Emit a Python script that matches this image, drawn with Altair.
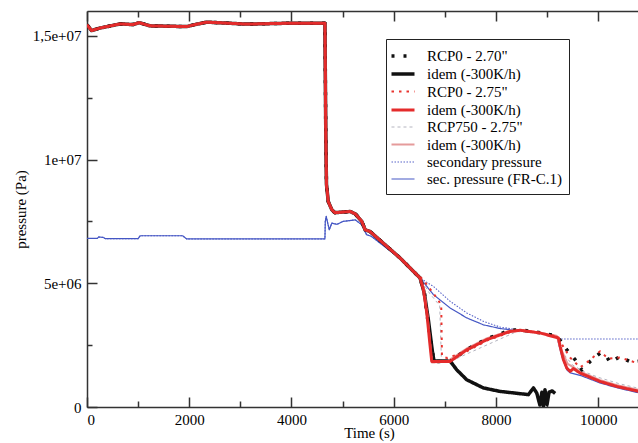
import altair as alt
import pandas as pd

# ---------------- data ----------------
# common primary-pressure trace (all six primary runs overlap until ~6500 s)
CP_T = [0, 90, 250, 650, 900, 1020, 1230, 1950, 2110, 2340, 3120, 4040, 4655, 4672,
        4685, 4720, 4790, 4850, 5150, 5250, 5376, 5441, 5538, 6125, 6517]
CP_P = [1.544e7, 1.521e7, 1.531e7, 1.548e7, 1.545e7, 1.553e7, 1.540e7, 1.537e7, 1.545e7,
        1.555e7, 1.547e7, 1.551e7, 1.551e7, 1.10e7, 9.0e6, 8.3e6, 7.97e6, 7.85e6, 7.9e6,
        7.8e6, 7.5e6, 7.16e6, 7.09e6, 6.02e6, 5.21e6]

# common secondary-pressure trace
SEC_T = [0, 200, 230, 320, 360, 1000, 1040, 1870, 1950, 4655, 4662, 4680, 4740, 4790,
         4890, 5010, 5250, 5376, 5470, 5560, 6125, 6517]
SEC_P = [6.81e6, 6.81e6, 6.87e6, 6.85e6, 6.80e6, 6.80e6, 6.92e6, 6.92e6, 6.79e6, 6.79e6,
         7.5e6, 7.7e6, 7.16e6, 7.43e6, 7.38e6, 7.5e6, 7.56e6, 7.36e6, 6.96e6, 6.9e6,
         6.0e6, 5.21e6]

# branches after ~6500 s
A_T = [6600, 6700, 6790, 7104, 7430, 7820, 8272, 8474, 8865, 9192, 9290, 9388, 9550,
       9681, 9844, 10039, 10170, 10235, 10430, 10500, 10660, 10800]
A_P = [4.6e6, 3.0e6, 1.84e6, 1.84e6, 2.32e6, 2.75e6, 3.1e6, 3.12e6, 3.0e6, 2.87e6,
       2.6e6, 2.31e6, 1.91e6, 1.5e6, 1.84e6, 2.18e6, 2.02e6, 1.8e6, 2.04e6, 1.95e6,
       1.8e6, 1.85e6]

B_T = [6600, 6680, 6760, 6790, 7104, 7235, 7430, 7756, 8082, 8636, 8734, 8800, 8860,
       8900, 8930, 8960, 9000, 9040, 9100, 9160]
B_P = [4.6e6, 3.5e6, 2.2e6, 1.86e6, 1.86e6, 1.5e6, 1.1e6, 7.7e5, 6.3e5, 5.0e5, 7.7e5,
       5.6e5, 8e4, 6e5, 2e4, 7e5, 1e5, 6e5, 6.5e5, 5.5e5]

C_T = [6576, 6870, 6930, 6945, 7045, 7430, 7820, 8272, 8474, 8865, 9192, 9300, 9450,
       9648, 9780, 10039, 10200, 10430, 10800]
C_P = [5.14e6, 4.33e6, 4.1e6, 2.04e6, 1.98e6, 2.25e6, 2.68e6, 3.02e6, 3.1e6, 3.0e6,
       2.86e6, 2.5e6, 2.0e6, 1.6e6, 1.8e6, 2.25e6, 1.95e6, 2.0e6, 1.75e6]

D_T = [6582, 6648, 6707, 6745, 7104, 7430, 7820, 8272, 8474, 8865, 9224, 9257, 9321,
       9388, 9452, 9517, 9648, 10039, 10366, 10800]
D_P = [4.74e6, 3.8e6, 2.58e6, 1.84e6, 1.84e6, 2.31e6, 2.72e6, 3.05e6, 3.1e6, 2.99e6,
       2.79e6, 2.45e6, 1.91e6, 1.57e6, 1.44e6, 1.55e6, 1.37e6, 1.03e6, 8.3e5, 6.3e5]

E_T = [6700, 6900, 6935, 7104, 8410, 8865, 9192, 9300, 9500, 9700, 10000, 10400, 10800]
E_P = [4.6e6, 4.1e6, 1.84e6, 1.84e6, 3.05e6, 2.98e6, 2.84e6, 2.2e6, 1.7e6, 1.45e6,
       1.2e6, 9.5e5, 7.5e5]

F_T = [6590, 6660, 6720, 6750, 7050, 7430, 7820, 8272, 8474, 8865, 9192, 9260, 9400,
       9648, 10039, 10366, 10800]
F_P = [4.8e6, 3.7e6, 2.4e6, 1.8e6, 1.84e6, 2.36e6, 2.77e6, 3.08e6, 3.11e6, 3.0e6,
       2.87e6, 2.4e6, 1.75e6, 1.43e6, 1.08e6, 8.8e5, 6.8e5]

G_T = [6777, 7104, 7430, 7756, 8082, 8474, 8865, 9193, 9250, 10800]
G_P = [4.87e6, 4.27e6, 3.8e6, 3.46e6, 3.23e6, 3.1e6, 3.0e6, 2.79e6, 2.75e6, 2.75e6]

H_T = [6777, 7104, 7430, 7756, 8082, 8474, 8865, 9192, 9290, 9388, 9452, 9648, 10039,
       10400, 10800]
H_P = [4.54e6, 4.0e6, 3.6e6, 3.32e6, 3.17e6, 3.08e6, 2.99e6, 2.85e6, 2.04e6, 1.5e6,
       1.38e6, 1.28e6, 9.7e5, 7.6e5, 5.7e5]

KEYS = ["a", "b", "c", "d", "e", "f", "g", "h"]
LABELS = ['RCP0 - 2.70"', "idem (-300K/h)", 'RCP0 - 2.75"', "idem (-300K/h)",
          'RCP750 - 2.75"', "idem (-300K/h)", "secondary pressure", "sec. pressure (FR-C.1)"]
COLORS = ["#111111", "#111111", "#e8342f", "#e42b2b", "#b4b4bf", "#e59b9b", "#5763c8", "#4456c4"]
DASHES = [[3, 9], [1, 0], [2.5, 5], [1, 0], [3, 3], [1, 0], [1.5, 1.5], [1, 0]]
WIDTHS = [3.5, 3.5, 2, 3, 1, 2.2, 1.1, 1.2]
DRAW_ORDER = ["g", "h", "e", "b", "f", "a", "c", "d"]

X_MAJOR = [0, 2000, 4000, 6000, 8000, 10000]
X_MINOR = [1000, 3000, 5000, 7000, 9000]
Y_MAJOR = [0, 5e6, 1e7, 1.5e7]
Y_MINOR = [2.5e6, 7.5e6, 1.25e7]

# ---------------- build table ----------------
branches = {
    "a": (CP_T + A_T, CP_P + A_P),
    "b": (CP_T + B_T, CP_P + B_P),
    "c": (CP_T[:-1] + C_T, CP_P[:-1] + C_P),
    "d": (CP_T + D_T, CP_P + D_P),
    "e": (CP_T + E_T, CP_P + E_P),
    "f": (CP_T + F_T, CP_P + F_P),
    "g": (SEC_T + G_T, SEC_P + G_P),
    "h": (SEC_T + H_T, SEC_P + H_P),
}
rows = []
for k, (ts, ps) in branches.items():
    for i, (t, p) in enumerate(zip(ts, ps)):
        rows.append({"series": k, "t": t, "p": p, "i": i})
df = pd.DataFrame(rows)

W, H = 551, 396
FONT = "Liberation Serif, Times New Roman, DejaVu Serif, serif"
AX = "#333333"

xscale = alt.Scale(domain=[0, 10780], nice=False, zero=False)
yscale = alt.Scale(domain=[0, 1.6e7], nice=False, zero=True)

label_expr = "[" + ",".join("'" + l.replace('"', '\\"') + "'" for l in LABELS) + "][indexof(" + \
    "[" + ",".join("'" + k + "'" for k in KEYS) + "], datum.value)]"

legend = alt.Legend(
    title=None, orient="none", legendX=299, legendY=28,
    strokeColor="#222222", fillColor="white", padding=7,
    symbolType="M-1.4,0H1.4", symbolSize=270, labelFont=FONT, labelFontSize=15,
    labelColor="black", labelExpr=label_expr, rowPadding=0, labelOffset=14,
)

color = alt.Color("series:N", scale=alt.Scale(domain=KEYS, range=COLORS), legend=legend)
dash = alt.StrokeDash("series:N", scale=alt.Scale(domain=KEYS, range=DASHES), legend=legend)
width = alt.StrokeWidth("series:N", scale=alt.Scale(type="ordinal", domain=KEYS, range=WIDTHS),
                        legend=legend)

layers = []
for n, key in enumerate(DRAW_ORDER):
    if n == 0:
        xa = alt.Axis(values=X_MAJOR, format="d", title="Time (s)", ticks=False, tickSize=0,
                      labelPadding=5, titlePadding=0, titleX=282, titleY=30,
                      titleBaseline="alphabetic",
                      labelFont=FONT, labelFontSize=15, titleFont=FONT, titleFontSize=15)
        ya = alt.Axis(values=Y_MAJOR, title="pressure (Pa)", ticks=False, tickSize=0,
                      labelPadding=6, titlePadding=4,
                      labelFont=FONT, labelFontSize=15, titleFont=FONT, titleFontSize=15,
                      labelExpr="datum.value == 15000000 ? '1,5e+07' : datum.value == 10000000 ? '1e+07' : datum.value == 5000000 ? '5e+06' : '0'")
    else:
        xa = None
        ya = None
    layers.append(
        alt.Chart(df).transform_filter(alt.datum.series == key)
        .mark_line(clip=True, strokeJoin="round")
        .encode(
            x=alt.X("t:Q", scale=xscale, axis=xa),
            y=alt.Y("p:Q", scale=yscale, axis=ya),
            color=color, strokeDash=dash, strokeWidth=width,
            order="i:Q",
        )
    )

# inward tick axes & top frame
def xtick_layer(vals, size, orient, domain):
    d = pd.DataFrame({"t": vals})
    return alt.Chart(d).mark_tick(opacity=0).encode(
        x=alt.X("t:Q", scale=xscale, axis=alt.Axis(
            values=vals, orient=orient, offset=-H, labels=False, domain=domain,
            ticks=True, tickSize=size, title=None)))

def ytick_layer(vals, size):
    d = pd.DataFrame({"p": vals})
    return alt.Chart(d).mark_tick(opacity=0).encode(
        y=alt.Y("p:Q", scale=yscale, axis=alt.Axis(
            values=vals, orient="right", offset=-W, labels=False, domain=False,
            ticks=True, tickSize=size, title=None)))

layers += [
    xtick_layer(X_MAJOR, 10, "top", False),
    xtick_layer(X_MINOR, 6, "top", False),
    xtick_layer(X_MAJOR, 10, "bottom", True),
    xtick_layer(X_MINOR, 6, "bottom", False),
    ytick_layer(Y_MAJOR, 10),
    ytick_layer(Y_MINOR, 5),
]

chart = alt.layer(*layers).resolve_axis(x="independent", y="independent").properties(
    width=W, height=H,
    autosize=alt.AutoSizeParams(type="none"),
    padding={"left": 87, "top": 11, "right": 0, "bottom": 36},
).configure_view(stroke=None).configure_axis(
    labelFont=FONT, labelFontSize=15, labelColor="black",
    titleFont=FONT, titleFontSize=15, titleFontWeight="normal", titleColor="black",
    domainColor=AX, domainWidth=1.5, tickColor=AX, tickWidth=1.5, grid=False,
)

chart.save("out.html", embed_options={"renderer": "svg", "actions": False})
